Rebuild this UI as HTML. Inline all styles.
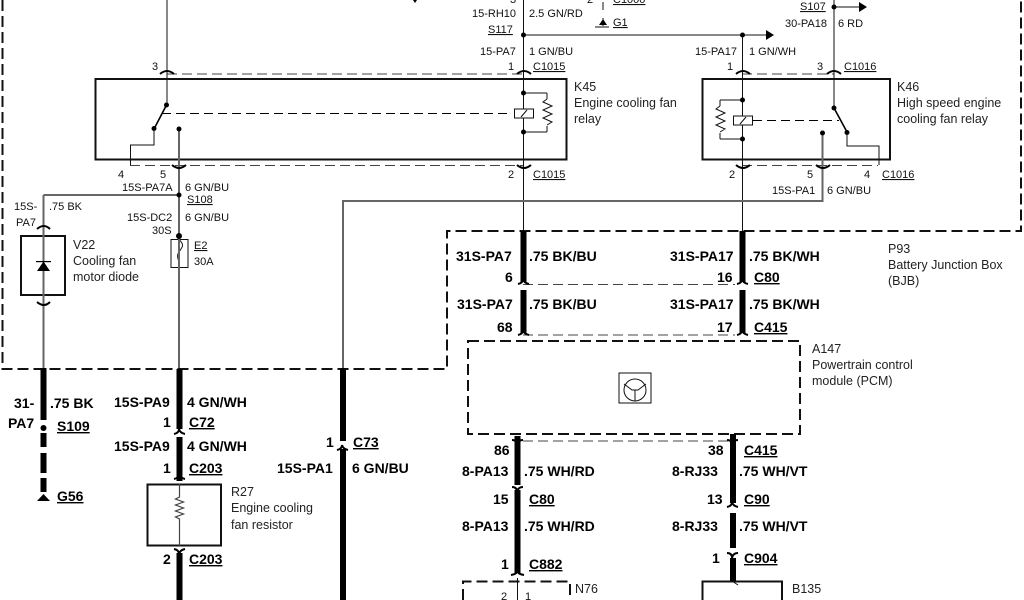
<!DOCTYPE html>
<html><head><meta charset="utf-8"><style>
html,body{margin:0;padding:0;background:#fff;width:1024px;height:600px;overflow:hidden}
svg{display:block}
text{font-family:"Liberation Sans",sans-serif;font-size:11px;fill:#111}
.l text{font-size:12.5px;fill:#222}
.b text{font-size:14px;font-weight:bold;fill:#000}
.u{text-decoration:underline}
</style></head><body>
<svg width="1024" height="600" viewBox="0 0 1024 600" xmlns="http://www.w3.org/2000/svg">
<rect width="1024" height="600" fill="#fff"/>
<!-- dashed frames -->
<g fill="none" stroke="#111" stroke-width="2" stroke-dasharray="11 5">
<path d="M2.500 0V369H447V231H1021V0"/>
<path d="M468 341H800V434H468Z"/>
<path d="M463 600V581.500H570V600"/>
</g>
<g fill="none" stroke="#444" stroke-width="1" stroke-dasharray="10 5">
<path d="M167 74H523M130 165.500H523M742 74H834M742 165.500H878"/>
<path d="M523 284.500H735M523 335H735M523 441H735"/>
</g>
<!-- boxes -->
<g fill="none" stroke="#111" stroke-width="2">
<rect x="95.500" y="79" width="471" height="80.500"/>
<rect x="702.500" y="79" width="187.500" height="80.500"/>
<rect x="21" y="236" width="44" height="59"/>
<rect x="147.500" y="484.500" width="73.500" height="61"/>
<path d="M702.500 600V581.500H782V600"/>
</g>
<!-- thin wires -->
<g fill="none" stroke="#111" stroke-width="1">
<path d="M167 0V105M523.500 0V231M742.500 35V231M834 0V108M523.500 35H768M834 7H861"/>
<path d="M154 129V145H130.500V165M847 132V146H879V165"/>
<path d="M523.500 93H547M523.500 132H547M547 93V99M547 126V132"/>
<path d="M547 99l-4 3 9 4-9 4 9 4-9 4 9 4-5 3"/>
<path d="M742.500 100H720M742.500 139H720M720 100V106M720 133V139"/>
<path d="M720 106l-4 3 9 4-9 4 9 4-9 4 9 4-5 3"/>
<rect x="514.500" y="109" width="19" height="9" fill="#fff"/>
<rect x="733.500" y="116" width="19" height="9" fill="#fff"/>
<path d="M521 117l6-7M740 124l6-7"/>
<rect x="171" y="239.500" width="17" height="28"/>
<path d="M179.500 240c5 5 3 7 0 11s-2 7 0 12"/>
<path d="M517.500 578V600"/>
<path d="M732 581l6 4"/>
<path d="M603 2V10M603 18V26"/>
<path d="M595 27H609"/>
</g>
<g fill="none" stroke="#666" stroke-width="2">
<path d="M179 129V368M43.500 195H179M43.500 195V368M343 368V201H822.500V133"/>
<path d="M179.500 484V497l-4 2 8 3-8 3 8 3-8 3 8 3-8 3 4 2V546" stroke-width="1.200" stroke="#444"/>
</g>
<!-- relay switches & dashed mech -->
<g fill="none" stroke="#000" stroke-width="1.600">
<path d="M166.500 105L154 129M834 108L847 132"/>
<path d="M162 113.500H510M753 120.500H839" stroke-dasharray="9 5" stroke-width="1"/>
</g>
<!-- dots -->
<g fill="#000">
<circle cx="166.500" cy="105" r="2.500"/><circle cx="154" cy="128.500" r="2.500"/><circle cx="179" cy="129" r="2.500"/>
<circle cx="523.500" cy="35" r="2.500"/><circle cx="523.500" cy="93" r="2.500"/><circle cx="523.500" cy="132" r="2.500"/>
<circle cx="742.500" cy="35" r="2.500"/><circle cx="742.500" cy="100" r="2.500"/><circle cx="742.500" cy="139" r="2.500"/>
<circle cx="834" cy="7" r="2.500"/><circle cx="834" cy="108" r="2.500"/><circle cx="847" cy="132.500" r="2.500"/><circle cx="822.500" cy="133" r="2.500"/>
<circle cx="179" cy="195" r="2.500"/><circle cx="179" cy="236" r="3"/><circle cx="43.500" cy="428" r="3"/>
<path d="M766 30l8 5-8 5ZM859 2l8 5-8 5ZM599 25l4-6 4 6ZM37 501l6.500-7 6.500 7ZM413 0h4l-2 3Z"/>
<path d="M37 271h13l-6.500-9.500Z"/>
<rect x="36" y="261" width="15" height="1.200"/>
</g>
<!-- thick wires -->
<g fill="none" stroke="#000" stroke-width="6">
<path d="M43.500 368V420M43.500 433V447M43.500 453V473M43.500 478V492"/>
<path d="M179.500 369V429M179.500 437V481M179.500 553V600M343 368V441M343 449V600"/>
<path d="M523.500 231V282M523.500 290V333M742.500 231V282M742.500 290V333"/>
<path d="M517.500 436V485M517.500 490V573M733 434V503M733 513V548M733 558V581"/>
</g>
<!-- connector arcs -->
<g fill="none" stroke="#000" stroke-width="2">
<path d="M160 74q7-6 14 0M517 74q7-6 14 0M736 74q7-6 14 0M827 74q7-6 14 0"/>
<path d="M172 165q7 6 14 0M517 165q7 6 14 0M736 165q7 6 14 0M816 165q7 6 14 0"/>
<path d="M37 229q7-6 13 0M37 302q7 6 13 0"/>
<path d="M518 284q5-1 5-5 1 4 6 5M518 335q5-1 5-5 1 4 6 5M737 284q5-1 5-5 1 4 6 5M737 335q5-1 5-5 1 4 6 5"/>
<path d="M174 434q5-1 5-5 1 4 6 5M174 479q5-1 5-5 1 4 6 5M337 450q5-1 5-5 1 4 6 5"/>
<path d="M174 549q5 1 5 5 1-4 6-5"/>
<path d="M512 440q5 0 5 5 1-5 6-5M512 487q5 0 5 5 1-5 6-5M727 440q5 0 5 5 1-5 6-5M727 553q5 0 5 5 1-5 6-5"/>
<path d="M511 575q6-1 6-4 1 3 7 4M727 507q5-1 5-5 1 4 6 5"/>
</g>
<!-- transistor icon -->
<g fill="none" stroke="#111" stroke-width="1">
<rect x="619" y="373" width="32" height="30"/>
<circle cx="635" cy="390" r="11"/>
<path d="M624 384l8 6h6l8-6M635 390v11"/>
</g>
<!-- small labels -->
<g>
<text x="152" y="70">3</text><text x="118" y="178">4</text><text x="160" y="178">5</text>
<text x="122" y="191">15S-PA7A</text><text x="185" y="191">6 GN/BU</text>
<text x="187" y="203" class="u">S108</text>
<text x="14" y="210">15S-</text><text x="16" y="226">PA7</text><text x="49" y="210">.75 BK</text>
<text x="127" y="221">15S-DC2</text><text x="185" y="221">6 GN/BU</text><text x="152" y="234">30S</text>
<text x="194" y="249" class="u">E2</text><text x="194" y="265">30A</text>
<text x="510" y="3">3</text>
<text x="472" y="17">15-RH10</text><text x="529" y="17">2.5 GN/RD</text>
<text x="488" y="33" class="u">S117</text>
<text x="480" y="55">15-PA7</text><text x="529" y="55">1 GN/BU</text>
<text x="508" y="70">1</text><text x="533" y="70" class="u">C1015</text>
<text x="508" y="178">2</text><text x="533" y="178" class="u">C1015</text>
<text x="587" y="3">2</text><text x="613" y="3" class="u">C1000</text><text x="613" y="26" class="u">G1</text>
<text x="800" y="10" class="u">S107</text>
<text x="785" y="27">30-PA18</text><text x="838" y="27">6 RD</text>
<text x="695" y="55">15-PA17</text><text x="749" y="55">1 GN/WH</text>
<text x="727" y="70">1</text><text x="817" y="70">3</text><text x="844" y="70" class="u">C1016</text>
<text x="729" y="178">2</text><text x="807" y="178">5</text><text x="864" y="178">4</text><text x="882" y="178" class="u">C1016</text>
<text x="772" y="194">15S-PA1</text><text x="827" y="194">6 GN/BU</text>
<text x="501" y="600">2</text><text x="525" y="600">1</text>
</g>
<g class="l">
<text x="574" y="91">K45</text><text x="574" y="107">Engine cooling fan</text><text x="574" y="123">relay</text>
<text x="897" y="91">K46</text><text x="897" y="107">High speed engine</text><text x="897" y="123">cooling fan relay</text>
<text x="73" y="249">V22</text><text x="73" y="265">Cooling fan</text><text x="73" y="281">motor diode</text>
<text x="888" y="253">P93</text><text x="888" y="269">Battery Junction Box</text><text x="888" y="285">(BJB)</text>
<text x="812" y="353">A147</text><text x="812" y="369">Powertrain control</text><text x="812" y="385">module (PCM)</text>
<text x="231" y="496">R27</text><text x="231" y="512">Engine cooling</text><text x="231" y="529">fan resistor</text>
<text x="575" y="593">N76</text><text x="792" y="593">B135</text>
</g>
<!-- bold labels -->
<g class="b">
<text x="456" y="261">31S-PA7</text><text x="529" y="261">.75 BK/BU</text><text x="505" y="282">6</text>
<text x="457" y="309">31S-PA7</text><text x="529" y="309">.75 BK/BU</text><text x="497" y="332">68</text>
<text x="670" y="261">31S-PA17</text><text x="749" y="261">.75 BK/WH</text><text x="717" y="282">16</text><text x="754" y="282" class="u">C80</text>
<text x="670" y="309">31S-PA17</text><text x="749" y="309">.75 BK/WH</text><text x="717" y="332">17</text><text x="754" y="332" class="u">C415</text>
<text x="14" y="408">31-</text><text x="8" y="428">PA7</text><text x="50" y="408">.75 BK</text>
<text x="57" y="431" class="u">S109</text><text x="57" y="501" class="u">G56</text>
<text x="114" y="407">15S-PA9</text><text x="187" y="407">4 GN/WH</text>
<text x="163" y="427">1</text><text x="189" y="427" class="u">C72</text>
<text x="114" y="451">15S-PA9</text><text x="187" y="451">4 GN/WH</text>
<text x="163" y="473">1</text><text x="189" y="473" class="u">C203</text>
<text x="163" y="564">2</text><text x="189" y="564" class="u">C203</text>
<text x="326" y="447">1</text><text x="353" y="447" class="u">C73</text>
<text x="277" y="473">15S-PA1</text><text x="352" y="473">6 GN/BU</text>
<text x="494" y="455">86</text>
<text x="462" y="476">8-PA13</text><text x="524" y="476">.75 WH/RD</text>
<text x="493" y="504">15</text><text x="529" y="504" class="u">C80</text>
<text x="462" y="531">8-PA13</text><text x="524" y="531">.75 WH/RD</text>
<text x="501" y="569">1</text><text x="529" y="569" class="u">C882</text>
<text x="708" y="455">38</text><text x="744" y="455" class="u">C415</text>
<text x="672" y="476">8-RJ33</text><text x="739" y="476">.75 WH/VT</text>
<text x="707" y="504">13</text><text x="744" y="504" class="u">C90</text>
<text x="672" y="531">8-RJ33</text><text x="739" y="531">.75 WH/VT</text>
<text x="712" y="563">1</text><text x="744" y="563" class="u">C904</text>
</g>
</svg>
</body></html>
